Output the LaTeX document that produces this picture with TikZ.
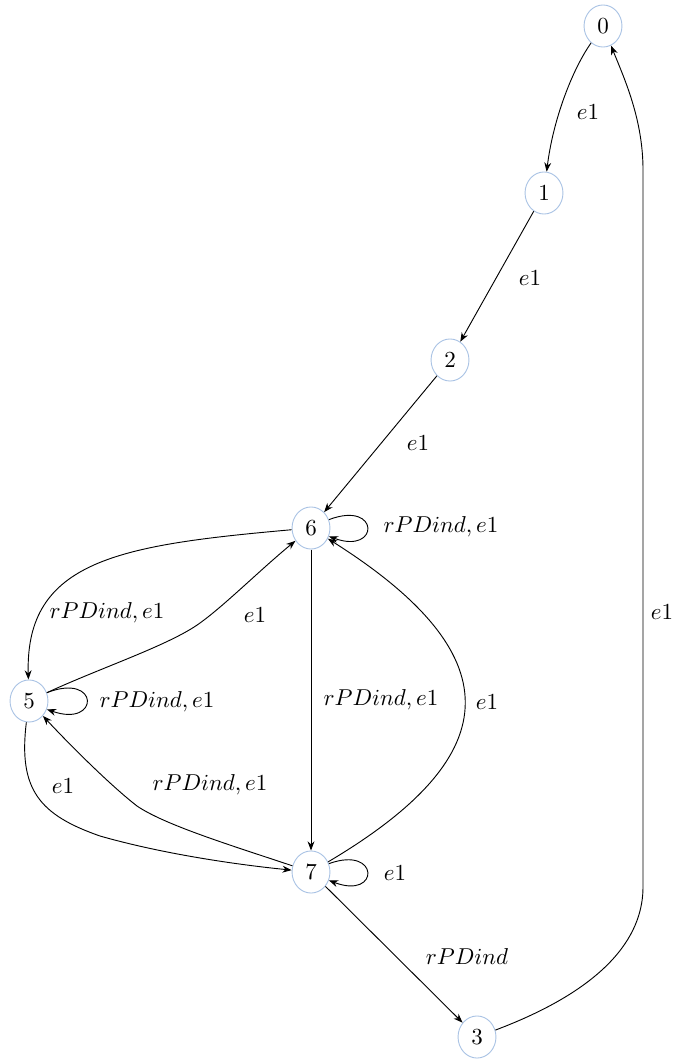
\documentclass[tikz,border=0pt]{standalone}
\usepackage{tikz}
\usetikzlibrary{arrows.meta,shapes.geometric}
\definecolor{nodeblue}{RGB}{170,195,228}
\begin{document}
\begin{tikzpicture}[
  x=0.435pt, y=-0.435pt,
  state/.style={ellipse, draw=nodeblue, minimum width=16.5pt, minimum height=18.3pt, inner sep=0pt},
  edge/.style={-{Stealth[length=4pt,width=3pt]}},
  lbl/.style={inner sep=0pt}
]
\useasboundingbox (0,0) rectangle (681,1059);
% states
\node[state] (s0) at (603,26) {0};
\node[state] (s1) at (544,193) {1};
\node[state] (s2) at (450,360) {2};
\node[state] (s6) at (311,528) {6};
\node[state] (s5) at (29,701) {5};
\node[state] (s7) at (311,872) {7};
\node[state] (s3) at (477,1037) {3};
% transitions
\draw[edge] (s0) .. controls (572,70) and (553,120) .. (s1);
\draw[edge] (s1) -- (s2);
\draw[edge] (s2) -- (s6);
\draw[edge] (s6.25) .. controls (380,500) and (380,555) .. (s6.-25);
\draw[edge] (s6) .. controls (120,545) and (25,560) .. (s5);
\draw[edge] (s5) .. controls (100,668) and (170,645) .. (200,623) .. controls (225,605) and (260,570) .. (s6);
\draw[edge] (s5.25) .. controls (100,672) and (100,728) .. (s5.-25);
\draw[edge] (s6) -- (s7);
\draw[edge] (s7) .. controls (500,760) and (520,660) .. (s6);
\draw[edge] (s7) .. controls (230,845) and (165,825) .. (137,806) .. controls (110,785) and (70,745) .. (s5);
\draw[edge] (s5) .. controls (18,790) and (40,815) .. (100,836) .. controls (170,856) and (250,866) .. (s7);
\draw[edge] (s7.25) .. controls (380,845) and (380,900) .. (s7.-25);
\draw[edge] (s7) -- (s3);
\draw[edge] (s3) .. controls (615,985) and (643,930) .. (643,887) -- (643,170) .. controls (643,120) and (625,80) .. (s0);
% labels
\node[lbl] (l01) at (588,112) {$e1$};
\node[lbl] (l12) at (530,278) {$e1$};
\node[lbl] (l26) at (418,443) {$e1$};
\node[lbl] (l66) at (441,527) {$rPDind, e1$};
\node[lbl] (l65) at (107,613) {$rPDind, e1$};
\node[lbl] (l56) at (255,615) {$e1$};
\node[lbl] (l55) at (157,702) {$rPDind, e1$};
\node[lbl] (l67) at (381,700) {$rPDind, e1$};
\node[lbl] (l76) at (487,702) {$e1$};
\node[lbl] (l75) at (210,785) {$rPDind, e1$};
\node[lbl] (l57) at (63,786) {$e1$};
\node[lbl] (l77) at (395,873) {$e1$};
\node[lbl] (l73) at (467,957) {$rPDind$};
\node[lbl] (l30) at (662,612) {$e1$};
\end{tikzpicture}
\end{document}
